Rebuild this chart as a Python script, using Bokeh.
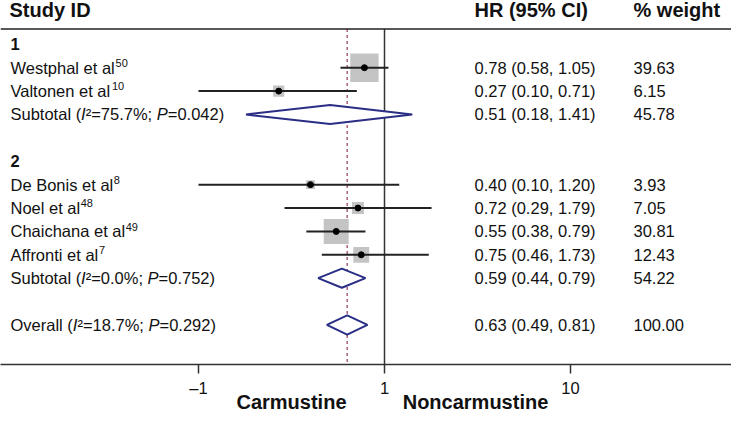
import numpy as np
from bokeh.plotting import figure
from bokeh.models import Range1d, FixedTicker, LogAxis, Span, ColumnDataSource
from bokeh.core.properties import value
from bokeh.embed import file_html
from bokeh.resources import INLINE

# ---------------- data ----------------
headers = ["Study ID", "HR (95% CI)", "% weight"]
group_labels = ["1", "2"]
study_names = ["Westphal et al", "Valtonen et al", "De Bonis et al",
               "Noel et al", "Chaichana et al", "Affronti et al"]
study_refs = ["50", "10", "8", "48", "49", "7"]
study_group = [0, 0, 1, 1, 1, 1]
study_hr = [0.78, 0.27, 0.40, 0.72, 0.55, 0.75]
study_lo = [0.58, 0.10, 0.10, 0.29, 0.38, 0.46]
study_hi = [1.05, 0.71, 1.20, 1.79, 0.79, 1.73]
study_weight = [39.63, 6.15, 3.93, 7.05, 30.81, 12.43]

sub_hr = [0.51, 0.59]
sub_lo = [0.18, 0.44]
sub_hi = [1.41, 0.79]
sub_weight = [45.78, 54.22]
sub_i2 = ["75.7", "0.0"]
sub_p = ["0.042", "0.752"]

overall_hr = 0.63
overall_lo = 0.49
overall_hi = 0.81
overall_weight = 100.00
overall_i2 = "18.7"
overall_p = "0.292"

tick_values = [0.1, 1, 10]
tick_labels = ["–1", "1", "10"]
side_labels = ["Carmustine", "Noncarmustine"]

# ---------------- layout ----------------
W, H = 731, 415
NULL_PX = 384.0      # figure px where HR = 1
DEC_PX = 186.0       # px per decade
ROW0, ROW_H = 44.8, 23.9
FONT = value("Liberation Sans")
BODY = "16.5px"
BODY_PX = 16.5
SUP = "11px"
HEAD = "20px"
TXT = "#111111"


def px2x(px):
    return 10 ** ((px - NULL_PX) / DEC_PX)


def ref2row(y):
    return (y - ROW0) / ROW_H


LABEL_PX, HR_PX, WT_PX = 10, 474, 633
HEAD_Y = ref2row(10)
LINE_Y = ref2row(29)
BOTTOM_Y = ref2row(372)

# Liberation Sans (Arial metrics) advance widths, per 1000 em
CW = {' ': 278, '(': 333, ')': 333, '%': 889, '.': 278, ';': 278, '=': 584, '²': 333,
      'A': 667, 'B': 667, 'C': 722, 'D': 722, 'I': 278, 'N': 722, 'O': 778, 'P': 667,
      'S': 667, 'V': 667, 'W': 944,
      'a': 556, 'b': 556, 'c': 500, 'e': 556, 'f': 278, 'h': 556, 'i': 222, 'l': 222,
      'n': 556, 'o': 556, 'p': 556, 'r': 333, 's': 500, 't': 278, 'u': 556, 'v': 500}


def tw(s, size=BODY_PX):
    return sum(CW.get(c, 556) for c in s) * size / 1000.0


# row assignment
row = 0
grp_rows, sub_rows = [], []
study_rows = [0] * len(study_names)
for g in range(len(group_labels)):
    grp_rows.append(row)
    row += 1
    for i, sg in enumerate(study_group):
        if sg == g:
            study_rows[i] = row
            row += 1
    sub_rows.append(row)
    row += 2
overall_row = row

p = figure(width=W, height=H, x_axis_type="log",
           x_range=Range1d(px2x(0), px2x(W)),
           y_range=Range1d(BOTTOM_Y, ref2row(0)),
           output_backend="svg", toolbar_location=None,
           y_axis_location=None, min_border=0)
p.grid.visible = False
p.outline_line_color = None
p.background_fill_color = "white"
p.border_fill_color = "white"

# header rule
p.add_layout(Span(location=LINE_Y, dimension="width", line_color="#222222", line_width=1.5))

# null line and overall dashed line
p.segment(x0=[1], y0=[LINE_Y], x1=[1], y1=[BOTTOM_Y], line_color="#333333", line_width=1.5)
p.segment(x0=[overall_hr], y0=[LINE_Y], x1=[overall_hr], y1=[BOTTOM_Y],
          line_color="#9a4a66", line_width=1.3, line_dash="3 3")

# study squares, CI lines, dots
p.scatter(x=study_hr, y=study_rows, marker="square",
          size=[4.5 * np.sqrt(w) for w in study_weight],
          fill_color="#c4c4c4", line_color=None)
p.segment(x0=study_lo, y0=study_rows, x1=study_hi, y1=study_rows,
          line_color="#222222", line_width=2)
p.scatter(x=study_hr, y=study_rows, size=6, color="black")

# diamonds
dh = 9.8 / ROW_H
d_hr = sub_hr + [overall_hr]
d_lo = sub_lo + [overall_lo]
d_hi = sub_hi + [overall_hi]
d_rows = sub_rows + [overall_row]
xs = [[lo, e, hi, e] for lo, e, hi in zip(d_lo, d_hr, d_hi)]
ys = [[r, r - dh, r, r + dh] for r in d_rows]
p.patches(xs, ys, fill_color="white", line_color="#2a2e85", line_width=2)

# headers
head_x = [px2x(LABEL_PX - 1), px2x(HR_PX), px2x(WT_PX)]
p.text(x=head_x, y=[HEAD_Y] * 3, text=headers, text_font=FONT, text_font_size=HEAD,
       text_font_style="bold", text_color=TXT, text_baseline="middle", text_align="left")

# group labels
p.text(x=[px2x(LABEL_PX)] * len(group_labels), y=grp_rows, text=group_labels,
       text_font=FONT, text_font_size=BODY, text_font_style="bold", text_color=TXT,
       text_baseline="middle", text_align="left")

# study labels + superscript reference numbers
p.text(x=[px2x(LABEL_PX)] * len(study_names), y=study_rows, text=study_names,
       text_font=FONT, text_font_size=BODY, text_color=TXT,
       text_baseline="middle", text_align="left")
sup_dy = 5.0 / ROW_H
p.text(x=[px2x(LABEL_PX + tw(n) + 0.5) for n in study_names],
       y=[r - sup_dy for r in study_rows], text=study_refs,
       text_font=FONT, text_font_size=SUP, text_color=TXT,
       text_baseline="middle", text_align="left")

# heterogeneity labels with italic I and P
norm = dict(x=[], y=[], text=[])
ital = dict(x=[], y=[], text=[])
het = [("Subtotal", sub_i2[k], sub_p[k], sub_rows[k]) for k in range(len(sub_rows))]
het.append(("Overall", overall_i2, overall_p, overall_row))
for base, i2, pv, r in het:
    parts = [(base + " (", norm), ("I", ital), ("²=" + i2 + "%; ", norm),
             ("P", ital), ("=" + pv + ")", norm)]
    pos = LABEL_PX
    for s, d in parts:
        d["x"].append(px2x(pos))
        d["y"].append(r)
        d["text"].append(s)
        pos += tw(s)
p.text(x="x", y="y", text="text", source=ColumnDataSource(norm), text_font=FONT,
       text_font_size=BODY, text_color=TXT, text_baseline="middle", text_align="left")
p.text(x="x", y="y", text="text", source=ColumnDataSource(ital), text_font=FONT,
       text_font_size=BODY, text_font_style="italic", text_color=TXT,
       text_baseline="middle", text_align="left")

# HR and weight columns
all_rows = study_rows + sub_rows + [overall_row]
all_hr = study_hr + sub_hr + [overall_hr]
all_lo = study_lo + sub_lo + [overall_lo]
all_hi = study_hi + sub_hi + [overall_hi]
all_w = study_weight + sub_weight + [overall_weight]
hr_txt = [f"{a:.2f} ({b:.2f}, {c:.2f})" for a, b, c in zip(all_hr, all_lo, all_hi)]
wt_txt = [f"{w:.2f}" for w in all_w]
p.text(x=[px2x(HR_PX)] * len(all_rows), y=all_rows, text=hr_txt, text_font=FONT,
       text_font_size=BODY, text_color=TXT, text_baseline="middle", text_align="left")
p.text(x=[px2x(WT_PX)] * len(all_rows), y=all_rows, text=wt_txt, text_font=FONT,
       text_font_size=BODY, text_color=TXT, text_baseline="middle", text_align="left")

# x axis
ax = p.xaxis[0]
ax.ticker = FixedTicker(ticks=tick_values)
ax.major_label_overrides = dict(zip(tick_values, tick_labels))
ax.axis_line_color = "#333333"
ax.axis_line_width = 1.5
ax.major_tick_line_color = "#333333"
ax.major_tick_line_width = 1.5
ax.major_tick_out = 9
ax.major_tick_in = 0
ax.minor_tick_line_color = None
ax.major_label_text_font = "Liberation Sans"
ax.major_label_text_font_size = BODY
ax.major_label_text_color = TXT
ax.major_label_standoff = 5
ax.axis_label_standoff = 0

side_ticks = [px2x(NULL_PX - 93), px2x(NULL_PX + 91)]
ax2 = LogAxis(ticker=FixedTicker(ticks=side_ticks),
              major_label_overrides=dict(zip(side_ticks, side_labels)),
              axis_line_color=None, major_tick_line_color=None, minor_tick_line_color=None,
              major_tick_out=0, major_tick_in=0, major_label_standoff=-9,
              axis_label_standoff=0,
              major_label_text_font="Liberation Sans", major_label_text_font_size=HEAD,
              major_label_text_font_style="bold", major_label_text_color=TXT)
p.add_layout(ax2, "below")

open("out.html", "w").write(file_html(p, INLINE))
